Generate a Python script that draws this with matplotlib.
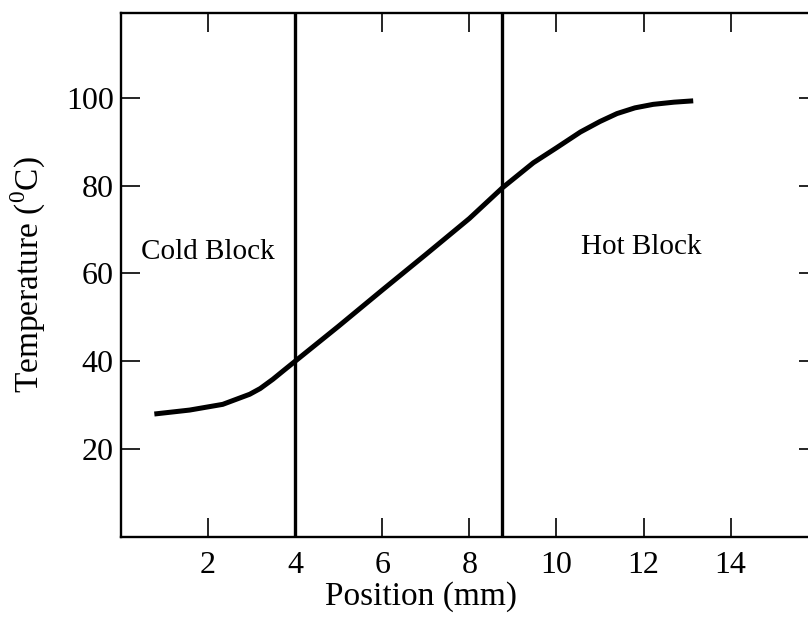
import matplotlib
matplotlib.use("Agg")
import matplotlib.pyplot as plt

# curve
position_mm = [0.77, 1.58, 2.34, 2.96, 3.2, 3.49, 3.75, 4.0, 5.0, 6.0, 7.0, 8.0, 8.76,
               9.47, 10.0, 10.55, 11.0, 11.39, 11.8, 12.22, 12.7, 13.14]
temperature_c = [28.0, 28.9, 30.2, 32.5, 33.8, 35.9, 38.0, 40.0, 48.0, 56.2, 64.3, 72.5, 79.5,
                 85.2, 88.6, 92.2, 94.6, 96.4, 97.7, 98.5, 99.0, 99.3]

# block boundaries
boundaries = [4.0, 8.75]

xticks = [2, 4, 6, 8, 10, 12, 14]
yticks = [20, 40, 60, 80, 100]

plt.rcParams['font.family'] = ['Liberation Serif', 'DejaVu Serif']
plt.rcParams['mathtext.fontset'] = 'custom'
plt.rcParams['mathtext.rm'] = 'Liberation Serif'

fig = plt.figure(figsize=(8.08, 6.19), dpi=100)
# axes run past the right edge, like the cropped scan
ax = fig.add_axes([120.8 / 808, 82 / 619, 697 / 808, 524 / 619])

ax.plot(position_mm, temperature_c, color='black', lw=3.6,
        solid_capstyle='butt', solid_joinstyle='round')
for b in boundaries:
    ax.axvline(b, color='black', lw=2.4)

ax.text(2.0, 65, 'Cold Block', ha='center', va='center', fontsize=21)
ax.text(11.95, 66, 'Hot Block', ha='center', va='center', fontsize=21)

ax.set_xlim(0, 16)
ax.set_ylim(0, 119.3)
ax.set_xticks(xticks)
ax.set_yticks(yticks)
ax.tick_params(direction='in', length=14, width=1.2, labelsize=23,
               top=True, right=True)
ax.tick_params(axis='x', pad=10)
ax.tick_params(axis='y', pad=5)
for s in ax.spines.values():
    s.set_linewidth(1.7)

ax.set_xlabel('Position (mm)', fontsize=24)
ax.set_ylabel('Temperature ($^{0}$C)', fontsize=24)
ax.xaxis.set_label_coords(0.431, -0.085)
ax.yaxis.set_label_coords(-0.104, 0.5)

fig.savefig('out.png', dpi=100)
